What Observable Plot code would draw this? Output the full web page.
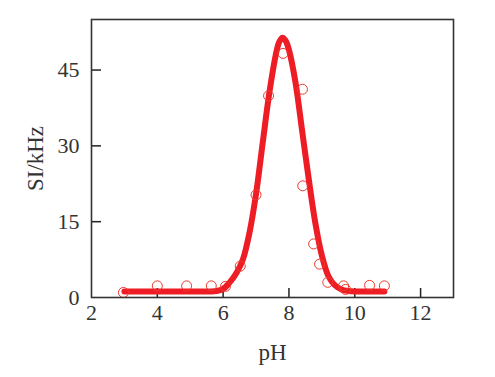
<!DOCTYPE html>
<html>
<head>
<meta charset="utf-8">
<script src="https://cdn.jsdelivr.net/npm/d3@7"></script>
<script src="https://cdn.jsdelivr.net/npm/@observablehq/plot@0.6"></script>
<style>
  html, body { margin: 0; padding: 0; background: #fff; }
  #chart svg { display: block; }
</style>
</head>
<body>
<div id="chart"></div>
<script>
// Fitted curve
const curvePH = [3.0, 4.0, 5.0, 5.8, 6.0, 6.2, 6.4, 6.6, 6.8, 7.0, 7.2, 7.4, 7.6, 7.7, 7.8, 7.9, 8.0, 8.2, 8.4, 8.6, 8.8, 9.0, 9.2, 9.4, 9.6, 9.8, 10.0, 10.5, 10.9];
const curveSI = [1.2, 1.2, 1.2, 1.3, 1.7, 3.0, 4.8, 7.5, 12.8, 20.5, 30.5, 40.3, 48.0, 50.5, 51.4, 50.8, 49.0, 42.5, 33.0, 23.5, 14.8, 8.3, 4.2, 2.4, 1.6, 1.3, 1.2, 1.2, 1.2];

// Measured points
const pointPH = [2.97, 4.0, 4.89, 5.64, 6.07, 6.52, 7.0, 7.38, 7.82, 8.41, 8.42, 8.75, 8.93, 9.18, 9.66, 9.72, 10.45, 10.9];
const pointSI = [1.0, 2.3, 2.3, 2.3, 2.2, 6.2, 20.3, 39.9, 48.3, 41.2, 22.1, 10.6, 6.6, 3.0, 2.3, 1.6, 2.4, 2.3];

const xTicks = [2, 4, 6, 8, 10, 12];
const yTicks = [0, 15, 30, 45];

const curve = curvePH.map((x, i) => ({x, y: curveSI[i]}));
const points = pointPH.map((x, i) => ({x, y: pointSI[i]}));

const W = 495, H = 377;
const mL = 91, mR = 42, mT = 19, mB = 80;
const frameW = W - mL - mR, frameH = H - mT - mB;

const chart = Plot.plot({
  width: W,
  height: H,
  marginLeft: mL,
  marginRight: mR,
  marginTop: mT,
  marginBottom: mB,
  style: {fontFamily: "'Liberation Serif', 'Times New Roman', serif", fontSize: "22px", color: "#333", background: "#fff"},
  x: {domain: [2, 13], ticks: xTicks, label: null},
  y: {domain: [0, 55], ticks: yTicks, label: null},
  marks: [
    Plot.axisX({ticks: xTicks, tickSize: 0, tickPadding: 7, fontSize: 22, label: null}),
    Plot.axisY({ticks: yTicks, tickSize: 0, tickPadding: 12, fontSize: 22, label: null}),
    Plot.tickX(xTicks.filter(d => d > 2), {x: d => d, stroke: "#222", strokeWidth: 1.5, insetTop: frameH - 9}),
    Plot.tickY(yTicks.filter(d => d > 0), {y: d => d, stroke: "#222", strokeWidth: 1.5, insetRight: frameW - 10}),
    Plot.line(curve, {x: "x", y: "y", stroke: "#ee1c24", strokeWidth: 6, curve: "catmull-rom"}),
    Plot.dot(points, {x: "x", y: "y", r: 5, stroke: "#ee3a2c", strokeWidth: 1, fill: "none"}),
    Plot.frame({stroke: "#333", strokeWidth: 1.6}),
    Plot.text(["pH"], {frameAnchor: "bottom", dy: 55, fontSize: 23, fill: "#333", lineAnchor: "middle"}),
    Plot.text(["SI/kHz"], {frameAnchor: "left", dx: -56, rotate: -90, textAnchor: "middle", fontSize: 23, fill: "#333"})
  ]
});
document.getElementById("chart").appendChild(chart);
</script>
</body>
</html>
